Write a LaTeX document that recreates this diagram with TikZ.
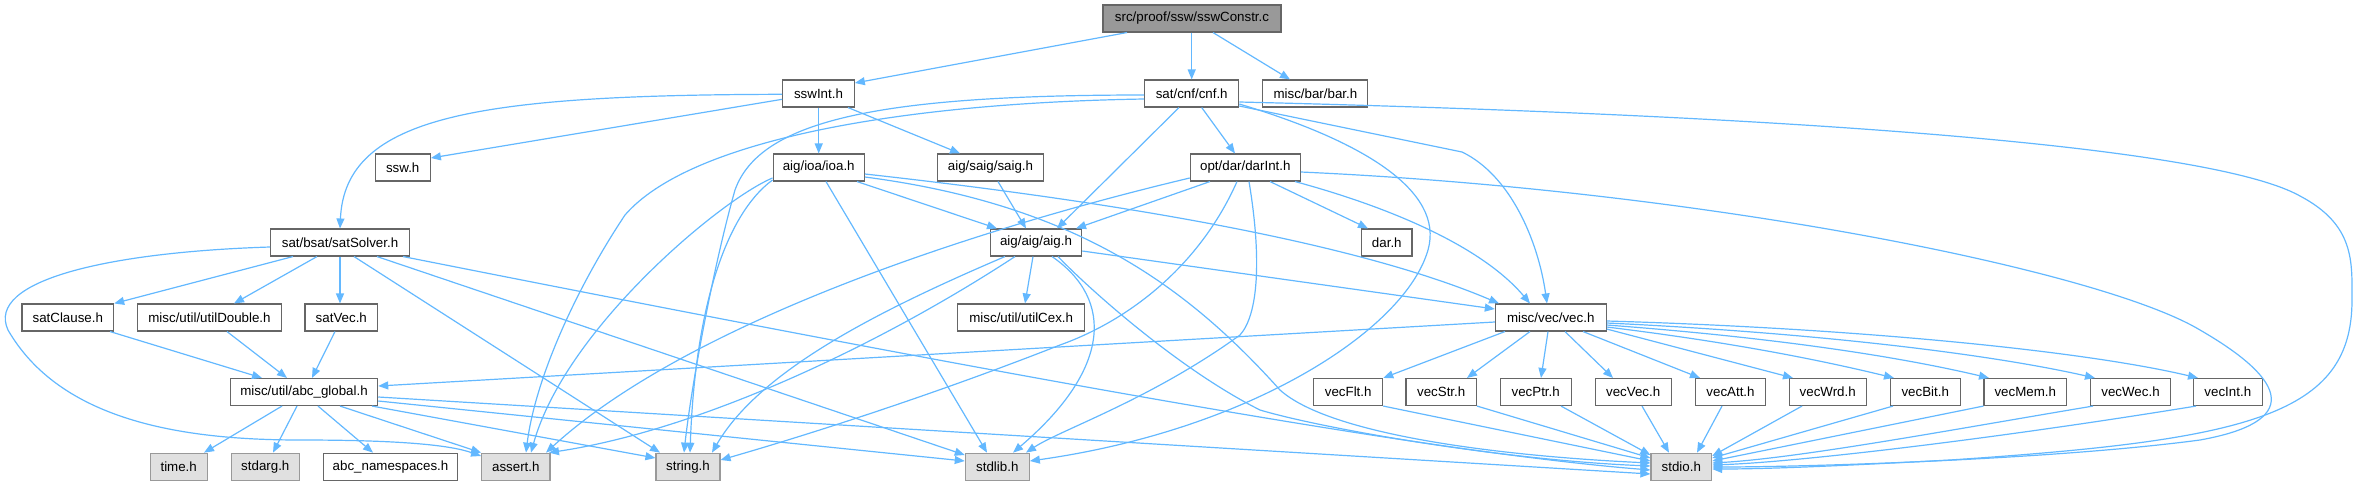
\documentclass[tikz,border=0pt]{standalone}
\usepackage{fontspec}
\setmainfont{Liberation Sans}
\usetikzlibrary{arrows.meta}
\definecolor{edgec}{HTML}{63B8FF}
\definecolor{boxb}{HTML}{666666}
\definecolor{sysfill}{HTML}{E0E0E0}
\definecolor{sysb}{HTML}{999999}
\definecolor{mainfill}{HTML}{999999}
\tikzset{
  box/.style={draw=boxb, fill=white, line width=1.1pt, inner sep=0pt, minimum height=27pt,
    font=\fontsize{13.33}{16}\selectfont, text=black},
  sysbox/.style={box, draw=sysb, fill=sysfill},
  mainbox/.style={box, draw=boxb, fill=mainfill},
  dep/.style={draw=edgec, line width=1.2pt, -{Triangle[length=10pt,width=8pt]}}
}
\begin{document}
\begin{tikzpicture}[x=1pt,y=-1pt]
\useasboundingbox (0,0) rectangle (2356,485);
% row 1
\node[mainbox, minimum width=178pt] (main) at (1192,18.5) {src/proof/ssw/sswConstr.c};
% row 2
\node[box, minimum width=71.6pt] (sswInt) at (818.5,93.5) {sswInt.h};
\node[box, minimum width=94pt] (cnf) at (1191.7,93.5) {sat/cnf/cnf.h};
\node[box, minimum width=105pt] (bar) at (1315.4,93.5) {misc/bar/bar.h};
% row 3
\node[box, minimum width=55.3pt] (ssw) at (402.7,167.5) {ssw.h};
\node[box, minimum width=91.3pt] (ioa) at (818.7,167.5) {aig/ioa/ioa.h};
\node[box, minimum width=105.6pt] (saig) at (990.5,167.5) {aig/saig/saig.h};
\node[box, minimum width=110pt] (darInt) at (1245.3,167.5) {opt/dar/darInt.h};
% row 4
\node[box, minimum width=138.6pt] (satSolver) at (340,242.5) {sat/bsat/satSolver.h};
\node[box, minimum width=91.4pt] (aig) at (1036,242.5) {aig/aig/aig.h};
\node[box, minimum width=50.3pt] (dar) at (1386.8,242.5) {dar.h};
% row 5
\node[box, minimum width=91.7pt] (satClause) at (67.8,317.5) {satClause.h};
\node[box, minimum width=143.6pt] (utilDouble) at (209.5,317.5) {misc/util/utilDouble.h};
\node[box, minimum width=72.7pt] (satVec) at (341.3,317.5) {satVec.h};
\node[box, minimum width=127pt] (utilCex) at (1021.2,317.5) {misc/util/utilCex.h};
\node[box, minimum width=110.7pt] (vec) at (1550.7,317.5) {misc/vec/vec.h};
% row 6
\node[box, minimum width=147.4pt] (abc) at (304,392) {misc/util/abc\_global.h};
\node[box, minimum width=69pt] (vecFlt) at (1348.2,392) {vecFlt.h};
\node[box, minimum width=70.5pt] (vecStr) at (1441.2,392) {vecStr.h};
\node[box, minimum width=70.7pt] (vecPtr) at (1535.7,392) {vecPtr.h};
\node[box, minimum width=75.7pt] (vecVec) at (1633.2,392) {vecVec.h};
\node[box, minimum width=70.4pt] (vecAtt) at (1730.5,392) {vecAtt.h};
\node[box, minimum width=76.7pt] (vecWrd) at (1827.7,392) {vecWrd.h};
\node[box, minimum width=69.7pt] (vecBit) at (1925.2,392) {vecBit.h};
\node[box, minimum width=82.7pt] (vecMem) at (2025.3,392) {vecMem.h};
\node[box, minimum width=79.6pt] (vecWec) at (2130.5,392) {vecWec.h};
\node[box, minimum width=69pt] (vecInt) at (2227.8,392) {vecInt.h};
% row 7
\node[sysbox, minimum width=57.3pt] (time) at (178.7,466.7) {time.h};
\node[sysbox, minimum width=68pt] (stdarg) at (265.3,466.7) {stdarg.h};
\node[box, minimum width=134.4pt] (abcns) at (390.5,466.7) {abc\_namespaces.h};
\node[sysbox, minimum width=68.3pt] (assert) at (515.8,466.7) {assert.h};
\node[sysbox, minimum width=64pt] (string) at (688,466.7) {string.h};
\node[sysbox, minimum width=64pt] (stdlib) at (997.3,466.7) {stdlib.h};
\node[sysbox, minimum width=60.7pt] (stdio) at (1681.3,466.7) {stdio.h};

% main
\draw[dep] (main.south -| 1127,0) -- (sswInt.east |- 0,83);
\draw[dep] (main.south -| 1191.7,0) -- (cnf.north -| 1191.7,0);
\draw[dep] (main.south -| 1213,0) -- (bar.north -| 1290,0);
% sswInt
\draw[dep] (sswInt.west |- 0,94.3) .. controls (480,95) and (345,115) .. (satSolver.north -| 340,0);
\draw[dep] (sswInt.west |- 0,99.3) -- (ssw.east |- 0,158);
\draw[dep] (sswInt.south -| 818.7,0) -- (ioa.north -| 818.7,0);
\draw[dep] (sswInt.south -| 848,0) -- (saig.north -| 960,0);
% cnf
\draw[dep] (cnf.south -| 1179,0) -- (aig.north -| 1057,0);
\draw[dep] (cnf.south -| 1201.7,0) -- (darInt.north -| 1235,0);
\draw[dep] (cnf.west |- 0,95) .. controls (880,95) and (760,120) .. (735,190) .. controls (715,260) and (692,380) .. (string.north -| 684,0);
\draw[dep] (cnf.west |- 0,99) .. controls (900,103) and (690,140) .. (625,215) .. controls (575,290) and (535,380) .. (assert.north -| 526,0);
\draw[dep] (cnf.east |- 0,104) .. controls (1360,140) and (1445,190) .. (1428,250) .. controls (1405,330) and (1250,430) .. (stdlib.east |- 0,461);
\draw[dep] (cnf.east |- 0,106) -- (1462,152) .. controls (1510,175) and (1538,240) .. (vec.north -| 1547,0);
\draw[dep] (cnf.east |- 0,102) .. controls (1700,113) and (2200,140) .. (2300,196) .. controls (2355,225) and (2352,262) .. (2352,300) .. controls (2352,415) and (2250,440) .. (1950,460) .. controls (1820,467) and (1760,469) .. (stdio.east |- 0,469);
% darInt
\draw[dep] (darInt.south -| 1210,0) -- (aig.north -| 1076,0);
\draw[dep] (darInt.south -| 1270,0) -- (dar.north -| 1368,0);
\draw[dep] (darInt.south -| 1295,0) .. controls (1400,210) and (1485,250) .. (vec.north -| 1530,0);
\draw[dep] (darInt.east |- 0,172) .. controls (1700,190) and (2100,270) .. (2200,330) .. controls (2290,382) and (2300,422) .. (2200,440) .. controls (2050,460) and (1800,467) .. (stdio.east |- 0,467);
\draw[dep] (darInt.south -| 1249,0) .. controls (1262,260) and (1258,315) .. (1240,335) .. controls (1150,400) and (1060,430) .. (stdlib.north -| 1026,0);
\draw[dep] (darInt.south -| 1237,0) .. controls (1200,265) and (1130,320) .. (1060,345) .. controls (920,400) and (790,440) .. (string.east |- 0,460);
\draw[dep] (darInt.west |- 0,178) .. controls (950,235) and (680,330) .. (assert.north -| 546,0);
% ioa
\draw[dep] (ioa.south -| 857,0) -- (aig.north -| 997,0);
\draw[dep] (ioa.south -| 826,0) -- (stdlib.north -| 987,0);
\draw[dep] (ioa.west |- 0,178) .. controls (720,200) and (565,330) .. (assert.north -| 531,0);
\draw[dep] (ioa.west |- 0,180) .. controls (725,215) and (695,310) .. (string.north -| 690,0);
\draw[dep] (ioa.east |- 0,174) .. controls (1100,200) and (1350,240) .. (vec.north -| 1499,0);
\draw[dep] (ioa.east |- 0,177) .. controls (1080,205) and (1190,290) .. (1280,390) .. controls (1330,435) and (1500,456) .. (stdio.west |- 0,463);
% saig
\draw[dep] (saig.south -| 998,0) -- (aig.north -| 1026,0);
% aig
\draw[dep] (aig.south -| 1033,0) -- (utilCex.north -| 1025,0);
\draw[dep] (aig.east |- 0,251) -- (vec.west |- 0,309);
\draw[dep] (aig.south -| 1052,0) .. controls (1115,300) and (1110,370) .. (stdlib.north -| 1013,0);
\draw[dep] (aig.south -| 1058,0) .. controls (1090,290) and (1180,370) .. (1260,410) .. controls (1320,428) and (1500,460) .. (stdio.west |- 0,466);
\draw[dep] (aig.south -| 1005,0) .. controls (880,310) and (760,370) .. (string.north -| 712,0);
\draw[dep] (aig.south -| 1015,0) .. controls (880,345) and (700,430) .. (assert.north -| 549,0);
% satSolver
\draw[dep] (satSolver.south -| 293,0) -- (satClause.north east);
\draw[dep] (satSolver.south -| 317,0) -- (utilDouble.north -| 234,0);
\draw[dep] (satSolver.south -| 340,0) -- (satVec.north -| 340,0);
\draw[dep] (satSolver.south -| 354,0) -- (string.north -| 660,0);
\draw[dep] (satSolver.south -| 377,0) -- (stdlib.west |- 0,455);
\draw[dep] (satSolver.south -| 403,0) .. controls (900,355) and (1400,450) .. (stdio.west |- 0,470);
\draw[dep] (satSolver.west |- 0,247) .. controls (110,252) and (-15,280) .. (8,330) .. controls (60,420) and (180,440) .. (300,440) .. controls (400,440) and (450,445) .. (assert.west |- 0,456);
% sat helpers
\draw[dep] (satClause.south -| 110,0) -- (abc.north -| 262,0);
\draw[dep] (utilDouble.south -| 227,0) -- (abc.north -| 287,0);
\draw[dep] (satVec.south -| 335,0) -- (abc.north -| 312,0);
% abc_global
\draw[dep] (abc.south -| 282,0) -- (time.north -| 204,0);
\draw[dep] (abc.south -| 297,0) -- (stdarg.north -| 273,0);
\draw[dep] (abc.south -| 318,0) -- (abcns.north -| 373,0);
\draw[dep] (abc.south -| 340,0) -- (assert.north west);
\draw[dep] (abc.south -| 372,0) -- (string.west |- 0,458);
\draw[dep] (abc.east |- 0,401) -- (stdlib.west |- 0,461);
\draw[dep] (abc.east |- 0,397) -- (stdio.west |- 0,474);
% vec
\draw[dep] (vec.west |- 0,322) -- (abc.east |- 0,386);
\draw[dep] (vec.south -| 1505,0) -- (vecFlt.north east);
\draw[dep] (vec.south -| 1530,0) -- (vecStr.north -| 1467,0);
\draw[dep] (vec.south -| 1548,0) -- (vecPtr.north -| 1541,0);
\draw[dep] (vec.south -| 1565,0) -- (vecVec.north -| 1613,0);
\draw[dep] (vec.south -| 1583,0) -- (vecAtt.north -| 1700,0);
\draw[dep] (vec.east |- 0,329) -- (vecWrd.north -| 1793,0);
\draw[dep] (vec.east |- 0,327) .. controls (1730,342) and (1820,360) .. (vecBit.north -| 1894,0);
\draw[dep] (vec.east |- 0,325) .. controls (1780,338) and (1900,357) .. (vecMem.north -| 1989,0);
\draw[dep] (vec.east |- 0,323) .. controls (1800,332) and (1980,352) .. (vecWec.north -| 2095,0);
\draw[dep] (vec.east |- 0,321) .. controls (1850,328) and (2080,350) .. (vecInt.north -| 2198,0);
% vec* -> stdio
\draw[dep] (vecFlt.south east) -- (stdio.west |- 0,461);
\draw[dep] (vecStr.south east) -- (stdio.west |- 0,458);
\draw[dep] (vecPtr.south -| 1561,0) -- (stdio.west |- 0,455);
\draw[dep] (vecVec.south -| 1642,0) -- (stdio.north -| 1669,0);
\draw[dep] (vecAtt.south -| 1722,0) -- (stdio.north -| 1697,0);
\draw[dep] (vecWrd.south -| 1802,0) -- (stdio.east |- 0,456);
\draw[dep] (vecBit.south -| 1893,0) -- (stdio.east |- 0,458);
\draw[dep] (vecMem.south west) -- (stdio.east |- 0,461);
\draw[dep] (vecWec.south -| 2093,0) .. controls (1950,430) and (1800,458) .. (stdio.east |- 0,463);
\draw[dep] (vecInt.south -| 2196,0) .. controls (2000,438) and (1800,462) .. (stdio.east |- 0,465);
\end{tikzpicture}
\end{document}
